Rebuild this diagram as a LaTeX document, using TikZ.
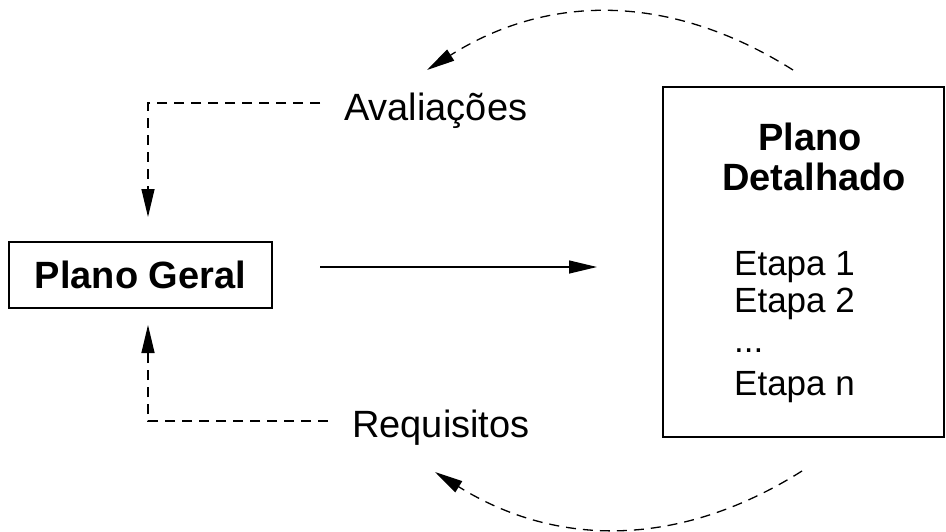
\documentclass[tikz,border=0pt]{standalone}
\usepackage{fontspec}
\setmainfont{Liberation Sans}
\usetikzlibrary{arrows.meta}
\begin{document}
\begin{tikzpicture}[x=1pt,y=-1pt,
  lbl/.style={inner sep=0pt,anchor=base west,font=\fontsize{38}{46}\selectfont},
  bold/.style={inner sep=0pt,anchor=base,font=\fontsize{38}{46}\selectfont\bfseries},
  step item/.style={inner sep=0pt,anchor=base west,font=\fontsize{35}{42}\selectfont},
  box/.style={draw,line width=1.5pt,rectangle,inner sep=0pt},
  dash line/.style={line width=1.3pt,dash pattern=on 10pt off 7pt},
  tip/.style={-{Triangle[length=28pt,width=13pt]}},
]
\useasboundingbox (0,0) rectangle (946,531);
% boxes
\node[box,minimum width=263pt,minimum height=66pt,font=\fontsize{38}{46}\selectfont\bfseries] (pg) at (140.5,275) {Plano Geral};
\node[box,minimum width=281pt,minimum height=350pt] (pd) at (803.5,262) {};
% texts inside right box
\node[bold] (t1) at (810,150) {Plano};
\node[bold] (t2) at (814,190) {Detalhado};
\node[step item] (e1) at (734,275) {Etapa 1};
\node[step item] (e2) at (734,312) {Etapa 2};
\node[step item] (e3) at (734,352) {...};
\node[step item] (e4) at (734,395) {Etapa n};
% labels
\node[lbl] (av) at (344,120) {Avaliações};
\node[lbl] (rq) at (352,437) {Requisitos};
% coordinates
\coordinate (avL) at (320,103);
\coordinate (pgT) at (148,217);
\coordinate (rqL) at (328,421);
\coordinate (pgB) at (148,325);
\coordinate (arS) at (320,267);
\coordinate (arE) at (597,267);
\coordinate (topS) at (793,70);
\coordinate (topE) at (427,70);
\coordinate (botS) at (802,471);
\coordinate (botE) at (435,472);
% connectors
\draw[line width=1.3pt,tip] (arS) -- (arE);
\draw[dash line,tip] (avL) -| (pgT);
\draw[dash line,tip] (rqL) -| (pgB);
\draw[dash line,tip] (topS) .. controls (671,-7) and (549,-7) .. (topE);
\draw[dash line,tip] (botS) .. controls (680,548) and (557,548) .. (botE);
\end{tikzpicture}
\end{document}
